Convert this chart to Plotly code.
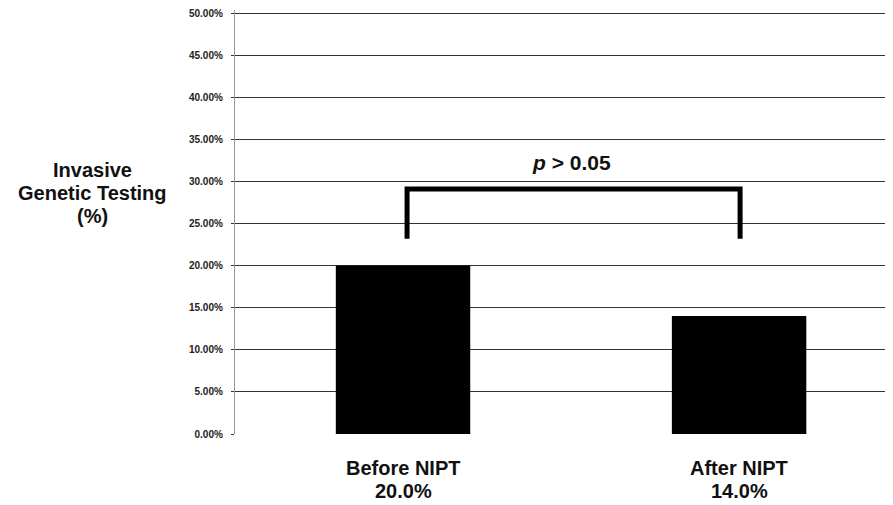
import plotly.graph_objects as go

categories = ["Before NIPT", "After NIPT"]
values = [20.0, 14.0]
value_labels = ["20.0%", "14.0%"]
y_ticks = [0, 5, 10, 15, 20, 25, 30, 35, 40, 45, 50]
title_lines = ["Invasive", "Genetic Testing", "(%)"]
p_text = "<i>p</i> > 0.05"
bracket_top = 29.1
bracket_bottom = 23.2
p_y = 32.3

FONT = "Liberation Sans, Arial, sans-serif"

fig = go.Figure()
fig.add_trace(go.Bar(
    x=[0, 1], y=values, width=0.4,
    marker=dict(color="black", line=dict(width=0)),
    hoverinfo="skip",
))
# significance bracket
fig.add_trace(go.Scatter(
    x=[0.012, 0.012, 1.003, 1.003],
    y=[bracket_bottom, bracket_top, bracket_top, bracket_bottom],
    mode="lines", line=dict(color="black", width=5),
    hoverinfo="skip",
))
fig.add_annotation(x=0.5, y=p_y, text=f"<b>{p_text}</b>", showarrow=False,
                   font=dict(family=FONT, size=21, color="#111"))

# y-axis title (horizontal, three lines)
for i, line in enumerate(title_lines):
    fig.add_annotation(xref="paper", yref="paper", x=0, y=1,
                       xshift=-143, yshift=-(160 + 23 * i),
                       text=f"<b>{line}</b>", showarrow=False,
                       xanchor="center", yanchor="middle",
                       font=dict(family=FONT, size=20, color="#111"))

# category labels
for i, (c, v) in enumerate(zip(categories, value_labels)):
    fig.add_annotation(xref="x", yref="paper", x=i, y=0, yshift=-34,
                       text=f"<b>{c}</b>", showarrow=False,
                       xanchor="center", yanchor="middle",
                       font=dict(family=FONT, size=20, color="#111"))
    fig.add_annotation(xref="x", yref="paper", x=i, y=0, yshift=-57,
                       text=f"<b>{v}</b>", showarrow=False,
                       xanchor="center", yanchor="middle",
                       font=dict(family=FONT, size=20, color="#111"))

fig.update_layout(
    width=885, height=497,
    margin=dict(l=227, r=0, t=2, b=71),
    paper_bgcolor="white", plot_bgcolor="white",
    showlegend=False,
    font=dict(family=FONT, color="#111"),
    xaxis=dict(
        range=[-0.5, 1.458],
        tickvals=[0, 1], showticklabels=False,
        showgrid=False, zeroline=False, showline=False,
        ticks="",
    ),
    yaxis=dict(
        range=[0, 50.356],
        tickvals=y_ticks,
        ticktext=[f"<b>{t:.2f}%</b>" for t in y_ticks],
        tickfont=dict(size=10, family=FONT, color="#222"),
        ticklabeloverflow="allow",
        showgrid=True, gridcolor="#333", gridwidth=1.4,
        zeroline=False,
        showline=True, linecolor="#999", linewidth=1.3,
        ticks="outside", ticklen=3, tickcolor="#333",
        ticklabelstandoff=6,
        fixedrange=True,
    ),
)
fig.write_html("out.html")
